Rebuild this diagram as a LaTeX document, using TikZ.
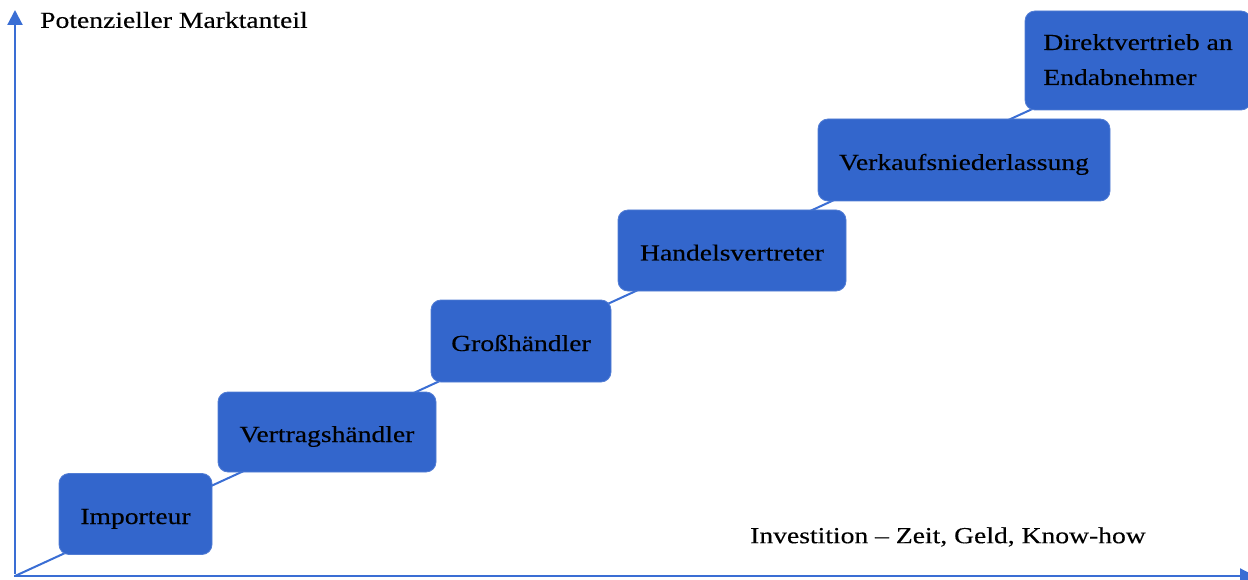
\documentclass[tikz,border=0pt]{standalone}
\usepackage{fontspec}
\setmainfont{Liberation Serif}[FakeStretch=1.2,FakeBold=0.3]
\usetikzlibrary{arrows.meta,backgrounds}
\definecolor{boxblue}{RGB}{51,102,204}
\definecolor{axisblue}{RGB}{58,110,212}
\tikzset{
  stage/.style={fill=boxblue, draw=boxblue!85!white, line width=0.8pt, rounded corners=10pt,
    inner sep=0pt, font=\fontsize{23}{35}\selectfont, text=black, text height=20pt, text depth=0pt},
  stagemulti/.style={fill=boxblue, draw=boxblue!85!white, line width=0.8pt, rounded corners=10pt,
    inner sep=0pt, font=\fontsize{23}{35}\selectfont, text=black},
  axis/.style={draw=axisblue, line width=2.2pt, -{Triangle[length=15pt,width=15pt]}},
  link/.style={draw=axisblue, line width=2pt},
  lbl/.style={font=\fontsize{23}{35}\selectfont, text=black, inner sep=0pt}
}
\begin{document}
\begin{tikzpicture}[x=1pt,y=-1pt]
\useasboundingbox (0,0) rectangle (1248,580);
\coordinate (o) at (15,576);
\coordinate (ytop) at (15,10);
\coordinate (xend) at (1255,576);
\node[stage, minimum width=153pt, minimum height=81pt] (imp) at (135.5,514) {Importeur};
\node[stage, minimum width=218pt, minimum height=80pt] (ver) at (327,432) {Vertragshändler};
\node[stage, minimum width=180pt, minimum height=82pt] (gro) at (521,341) {Großhändler};
\node[stage, minimum width=228pt, minimum height=81pt] (han) at (732,250.5) {Handelsvertreter};
\node[stage, minimum width=292pt, minimum height=82pt] (vkn) at (964,160) {Verkaufsniederlassung};
\node[stagemulti, minimum width=226pt, minimum height=99pt] (dir) at (1138,60.5)
  {\raisebox{-7pt}{\begin{tabular}[c]{@{}l@{}}Direktvertrieb an\\Endabnehmer\end{tabular}}};
\begin{scope}[on background layer]
\draw[link] (o) -- (dir.center);
\end{scope}
\draw[axis] ([yshift=2pt]o) -- (ytop);
\draw[axis] ([xshift=-1pt]o) -- (xend);
\node[lbl, anchor=west] (ylab) at (40,20) {Potenzieller Marktanteil};
\node[lbl, anchor=west] (xlab) at (750,537) {Investition – Zeit, Geld, Know-how};
\end{tikzpicture}
\end{document}
